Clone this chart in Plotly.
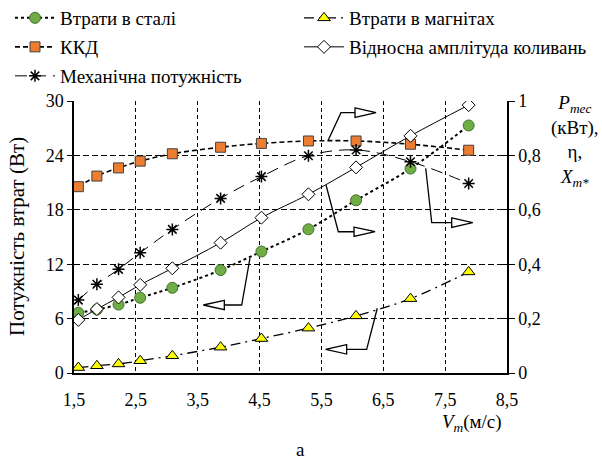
import plotly.graph_objects as go

# ---- data ----
V = [1.57, 1.87, 2.22, 2.57, 3.09, 3.87, 4.53, 5.29, 6.06, 6.94, 7.88]
steel_loss = [6.65, 7.0, 7.55, 8.3, 9.4, 11.35, 13.4, 15.85, 19.05, 22.55, 27.3]
magnet_loss = [0.6, 0.8, 1.0, 1.35, 1.9, 2.85, 3.8, 4.95, 6.3, 8.2, 11.15]
efficiency = [0.685, 0.724, 0.754, 0.779, 0.806, 0.83, 0.844, 0.853, 0.853, 0.841, 0.819]
mech_power = [0.268, 0.326, 0.381, 0.442, 0.528, 0.642, 0.722, 0.799, 0.82, 0.777, 0.697]
rel_amplitude = [0.195, 0.235, 0.278, 0.324, 0.385, 0.479, 0.571, 0.657, 0.756, 0.872, 0.985]

names = ["Втрати в сталі", "Втрати в магнітах", "ККД",
         "Відносна амплітуда коливань", "Механічна потужність"]

FONT = "Liberation Serif"
PL, PR, PT, PB = 74, 507, 101, 373  # plot area pixels


def px(x):
    return (x - PL) / (PR - PL)


def py(y):
    return (PB - y) / (PB - PT)


fig = go.Figure()

fig.add_trace(go.Scatter(
    x=V, y=steel_loss, name=names[0], mode="lines+markers", line_shape="spline",
    line=dict(color="black", width=2, dash="dot"),
    marker=dict(symbol="circle", size=11, color="#70AD47", line=dict(color="#41712A", width=1)),
    legend="legend"))
fig.add_trace(go.Scatter(
    x=V, y=magnet_loss, name=names[1], mode="lines+markers", line_shape="spline",
    line=dict(color="black", width=1.3, dash="10px,5px,2px,5px"),
    marker=dict(symbol="triangle-up", size=11, color="#FFFF00", line=dict(color="black", width=1)),
    legend="legend2"))
fig.add_trace(go.Scatter(
    x=V, y=efficiency, name=names[2], mode="lines+markers", line_shape="spline", yaxis="y2",
    line=dict(color="black", width=1.6, dash="5px,3px"),
    marker=dict(symbol="square", size=10, color="#ED7D31", line=dict(color="#404040", width=1)),
    legend="legend3"))
fig.add_trace(go.Scatter(
    x=V, y=rel_amplitude, name=names[3], mode="lines+markers", line_shape="spline", yaxis="y2",
    line=dict(color="black", width=1),
    marker=dict(symbol="diamond", size=10, color="white", line=dict(color="black", width=1)),
    legend="legend4"))
fig.add_trace(go.Scatter(
    x=V, y=mech_power, name=names[4], mode="lines+markers", line_shape="spline", yaxis="y2",
    line=dict(color="black", width=1, dash="12px,7px"),
    marker=dict(symbol="asterisk-open", size=10, color="black", line=dict(color="black", width=1.5)),
    legend="legend5"))

# dummy trace to activate yaxis3 (inside ticks on right axis)
fig.add_trace(go.Scatter(x=[None], y=[None], yaxis="y3", showlegend=False, hoverinfo="skip"))


# ---- arrows (annotation pointers, data coords of left axis) ----
def arrow(points, direction):
    path = "M " + " L ".join(f"{x},{y}" for x, y in points)
    fig.add_shape(type="path", path=path, xref="x", yref="y",
                  line=dict(color="black", width=1.3))
    bx, by = points[-1]
    tip = bx + direction * 0.34
    tri = f"M {bx},{by + 0.52} L {tip},{by} L {bx},{by - 0.52} Z"
    fig.add_shape(type="path", path=tri, xref="x", yref="y",
                  line=dict(color="black", width=1.3), fillcolor="white")


arrow([(4.345, 12.68), (4.211, 7.5), (3.93, 7.5)], -1)
arrow([(5.611, 25.70), (5.816, 28.71), (6.043, 28.71)], 1)
arrow([(5.574, 20.74), (5.773, 15.58), (6.027, 15.58)], 1)
arrow([(7.186, 22.58), (7.283, 16.58), (7.606, 16.58)], 1)
arrow([(6.403, 7.14), (6.231, 2.61), (5.908, 2.61)], -1)

LEGFONT = dict(family=FONT, size=19, color="black")


def leg(xpix, ypix):
    return dict(orientation="v", xref="paper", yref="paper",
                x=px(xpix), y=py(ypix),
                xanchor="left", yanchor="middle", bgcolor="rgba(0,0,0,0)",
                font=LEGFONT, itemwidth=40)


fig.update_layout(
    width=602, height=461,
    margin=dict(l=PL, r=602 - PR, t=PT, b=461 - PB, autoexpand=False),
    paper_bgcolor="white", plot_bgcolor="white",
    separators=", ",
    font=dict(family=FONT, size=18, color="black"),
    showlegend=True,
    legend=leg(10, 18),
    legend2=leg(299, 18),
    legend3=leg(10, 47),
    legend4=leg(299, 47),
    legend5=leg(10, 76),
    xaxis=dict(range=[1.5, 8.5], tick0=1.5, dtick=1, showgrid=True,
               gridcolor="black", gridwidth=1, griddash="4px,3px",
               showline=True, linecolor="black", linewidth=1.5,
               ticks="", ticklabelstandoff=10,
               tickfont=dict(family=FONT, size=18), zeroline=False),
    yaxis=dict(range=[0, 30], tick0=0, dtick=6, showgrid=True,
               gridcolor="black", gridwidth=1, griddash="6px,3px",
               showline=True, linecolor="black", linewidth=1.5,
               ticks="outside", ticklen=5, tickcolor="black",
               tickfont=dict(family=FONT, size=18), zeroline=False),
    yaxis2=dict(range=[0, 1], tick0=0, dtick=0.2, overlaying="y", side="right",
                showgrid=False, showline=True, linecolor="black", linewidth=1.5,
                ticks="outside", ticklen=6, tickcolor="black",
                tickfont=dict(family=FONT, size=18), zeroline=False),
    yaxis3=dict(range=[0, 1], tick0=0.2, dtick=0.2, overlaying="y", side="right",
                showgrid=False, showline=False, showticklabels=False,
                ticks="inside", ticklen=6, tickcolor="black", zeroline=False),
)

fig.add_annotation(text="Потужність втрат (Вт)", textangle=-90, xref="paper", yref="paper",
                   x=px(17), y=py(237), xanchor="center", yanchor="middle", showarrow=False,
                   font=dict(family=FONT, size=21))
fig.add_annotation(text="<i>P</i><sub><i>mec</i></sub><br>(кВт),<br>η,<br><i>X</i><sub><i>m*</i></sub>",
                   xref="paper", yref="paper", x=px(575), y=py(90),
                   xanchor="center", yanchor="top", showarrow=False, align="center",
                   font=dict(family=FONT, size=19))
fig.add_annotation(text="<i>V</i><sub><i>m</i></sub>(м/с)", xref="paper", yref="paper",
                   x=px(504), y=py(423), xanchor="right", yanchor="middle",
                   showarrow=False, font=dict(family=FONT, size=19))
fig.add_annotation(text="а", xref="paper", yref="paper", x=px(300), y=py(449),
                   xanchor="center", yanchor="middle", showarrow=False,
                   font=dict(family=FONT, size=19))

fig.write_html("out.html", config={"displayModeBar": False},
               post_script="document.body.style.margin='0';")
